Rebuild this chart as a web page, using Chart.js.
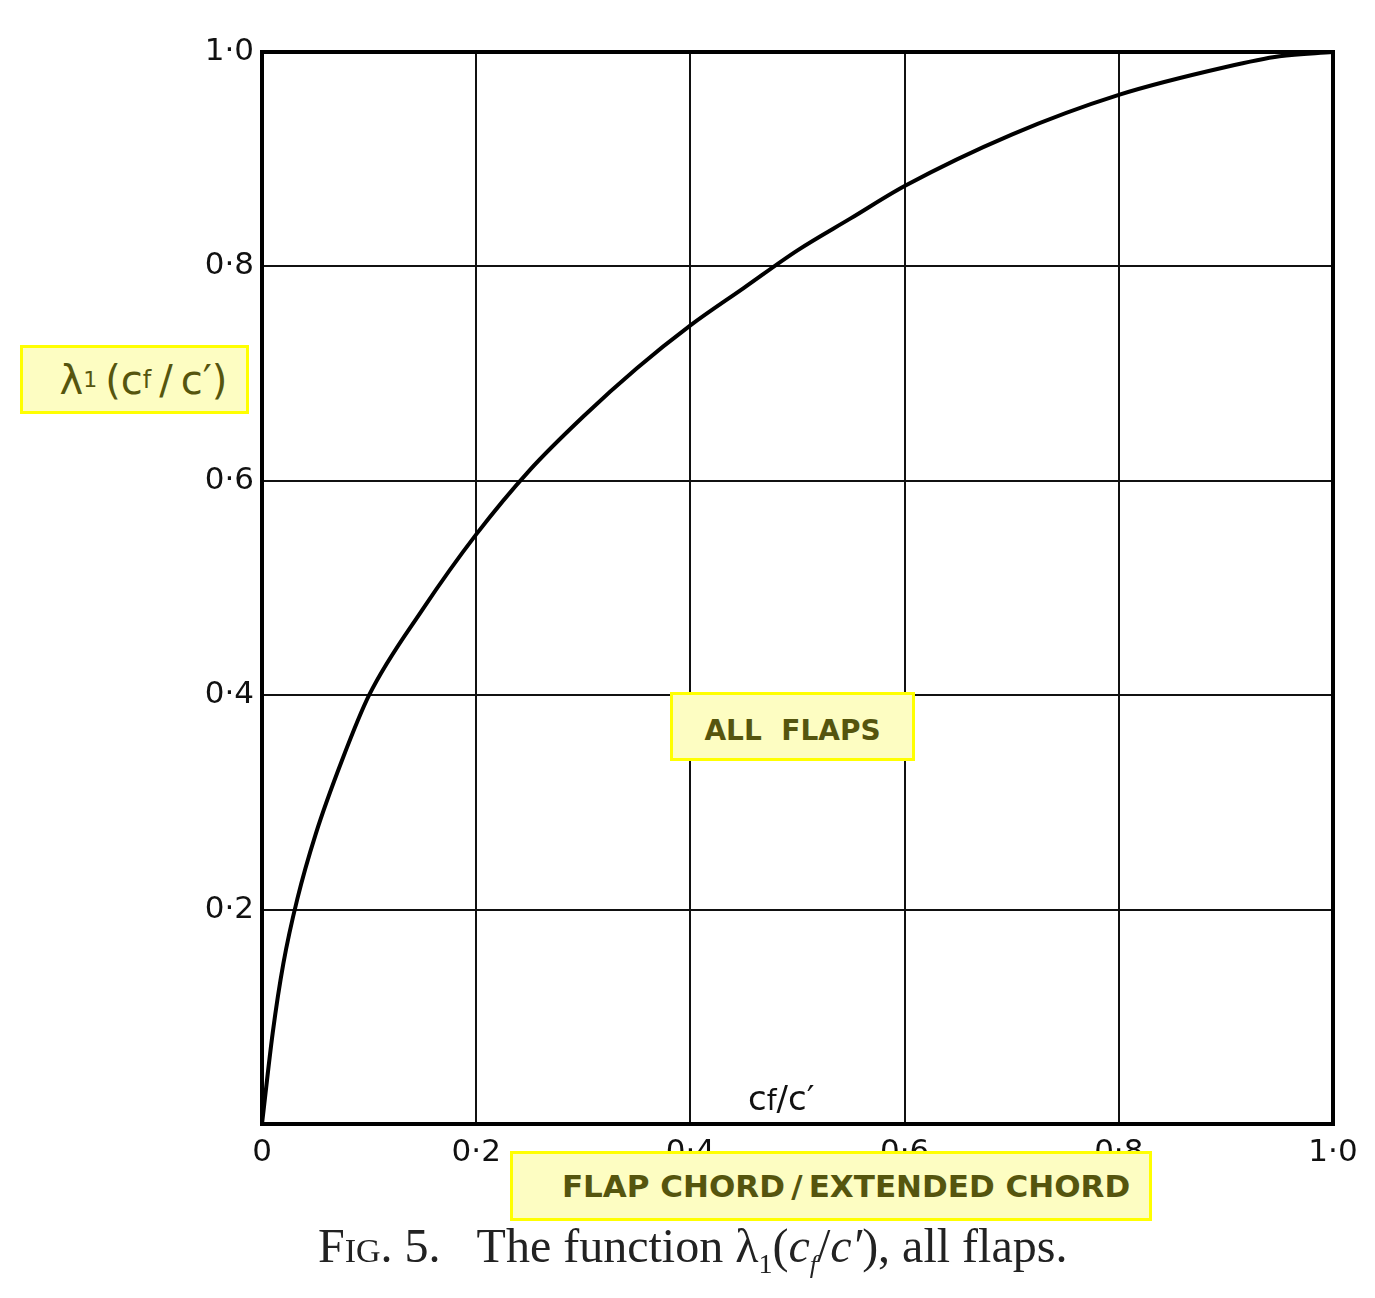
<!DOCTYPE html>
<html>
<head>
<meta charset="utf-8">
<script src="https://cdn.jsdelivr.net/npm/chart.js@4/dist/chart.umd.min.js"></script>
<style>
  body { margin: 0; background: #fff; }
  #wrap { position: relative; width: 1375px; height: 1298px; }
  .note {
    position: absolute; box-sizing: border-box;
    background: #fdfdc2; border: 3px solid #ffff00;
    color: #55550e; font-family: "DejaVu Sans", sans-serif;
    display: flex; align-items: center; justify-content: center;
    white-space: nowrap;
  }
  .caption {
    position: absolute; left: 318px; top: 1218px;
    font-family: "Liberation Serif", "DejaVu Serif", serif;
    font-size: 48px; color: #222; white-space: nowrap;
  }
  .xname {
    position: absolute; left: 748px; top: 1078px;
    font-family: "DejaVu Sans", sans-serif; font-size: 34px; color: #111;
  }
</style>
</head>
<body>
<div id="wrap">
  <canvas id="chart" width="1375" height="1298"></canvas>
  <div class="note" style="left:20px;top:345px;width:229px;height:69px;font-size:40px;padding-left:18px;">λ<sub style="font-size:22px">1</sub>&thinsp;(c<sub style="font-size:24px">f</sub>&thinsp;/&thinsp;c′)</div>
  <div class="note" style="left:670px;top:692px;width:245px;height:69px;font-size:28px;font-weight:bold;padding-top:8px;">ALL&nbsp;&nbsp;FLAPS</div>
  <div class="note" style="left:510px;top:1151px;width:642px;height:70px;font-size:31px;font-weight:bold;padding-left:30px;">FLAP&nbsp;CHORD&thinsp;/&thinsp;EXTENDED&nbsp;CHORD</div>
  <div class="xname">c<span style="font-size:28px">f</span>/c′</div>
  <div class="caption"><span style="font-variant:small-caps">Fig.</span> 5.&nbsp;&nbsp;&nbsp;The function λ<sub style="font-size:28px">1</sub>(<i>c<sub style="font-size:26px">f</sub></i>/<i>c′</i>), all flaps.</div>
</div>
<script>
// flap chord ratio cf/c'
const chordRatio = [0, 0.01, 0.02, 0.033, 0.05, 0.075, 0.1, 0.15, 0.2, 0.25, 0.3, 0.35, 0.4, 0.45, 0.5, 0.55, 0.6, 0.7, 0.8, 0.9, 0.95, 1.0];
// lambda1
const lambda1 = [0, 0.085, 0.15, 0.21, 0.27, 0.34, 0.40, 0.48, 0.55, 0.61, 0.66, 0.705, 0.745, 0.78, 0.815, 0.845, 0.875, 0.923, 0.96, 0.986, 0.996, 1.0];
const xTicks = ['0', '0·2', '0·4', '0·6', '0·8', '1·0'];
const yTicks = ['', '0·2', '0·4', '0·6', '0·8', '1·0'];

const points = chordRatio.map((x, i) => ({ x: x, y: lambda1[i] }));

// frame round the plot area
const frame = {
  id: 'frame',
  afterDraw(chart) {
    const a = chart.chartArea;
    const ctx = chart.ctx;
    ctx.save();
    ctx.strokeStyle = '#000';
    ctx.lineWidth = 4;
    ctx.strokeRect(a.left, a.top, a.right - a.left, a.bottom - a.top);
    ctx.restore();
  }
};

const tickFont = { family: 'DejaVu Sans', size: 31 };

new Chart(document.getElementById('chart'), {
  type: 'scatter',
  data: {
    datasets: [{
      data: points,
      showLine: true,
      borderColor: '#000',
      borderWidth: 4,
      pointRadius: 0,
      cubicInterpolationMode: 'monotone',
    }],
  },
  options: {
    responsive: false,
    animation: false,
    layout: { padding: { top: 52, right: 42, left: 0, bottom: 0 } },
    plugins: { legend: { display: false }, tooltip: { enabled: false } },
    scales: {
      x: {
        min: 0, max: 1,
        afterFit: (s) => { s.height = 174; },
        grid: { color: '#111', lineWidth: 2, drawTicks: false },
        border: { color: '#000', width: 4 },
        ticks: {
          stepSize: 0.2,
          padding: 10,
          color: '#111',
          font: tickFont,
          callback: (v, i) => xTicks[i],
        },
      },
      y: {
        min: 0, max: 1,
        afterFit: (s) => { s.width = 262; },
        grid: { color: '#111', lineWidth: 2, drawTicks: false },
        border: { color: '#000', width: 4 },
        ticks: {
          stepSize: 0.2,
          padding: 8,
          color: '#111',
          font: tickFont,
          callback: (v, i) => yTicks[i],
        },
      },
    },
  },
  plugins: [frame],
});
</script>
</body>
</html>
